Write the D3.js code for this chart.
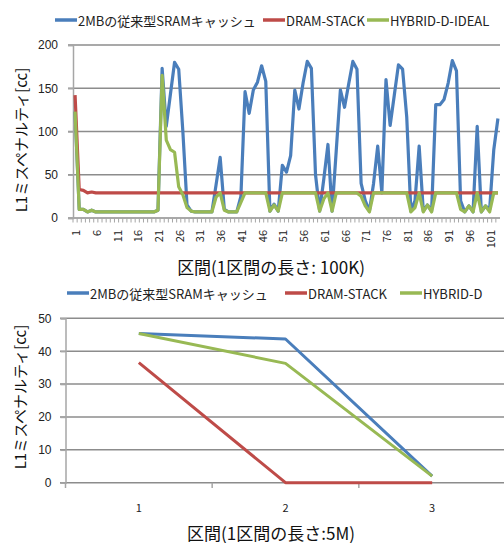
<!DOCTYPE html>
<html>
<head>
<meta charset="utf-8">
<style>
    body { margin: 0; background: #ffffff; }
    svg { display: block; font-family: "Noto Sans CJK JP", "Noto Sans", sans-serif; }
    .grid line { stroke: #8c8c8c; stroke-width: 1.5; }
    .axis path, .axis line { stroke: #a6a6a6; stroke-width: 1.5; }
    .axis text { fill: #222; font-size: 12px; }
    .legend text { fill: #222; font-size: 13px; }
    .title { fill: #111; font-size: 17px; }
</style>
</head>
<body>
<svg width="504" height="543"></svg>

<script src="https://cdn.jsdelivr.net/npm/d3@7/dist/d3.min.js"></script>
<script>
    // ---- top chart: interval length 100K ----
    let intervals100k = d3.range(1, 104)
    let tickLabels100k = [1, 6, 11, 16, 21, 26, 31, 36, 41, 46, 51, 56, 61, 66, 71, 76, 81, 86, 91, 96, 101]
    let yTicks100k = [0, 50, 100, 150, 200]

    let sram100k = [
        123, 10, 10, 7, 9, 7, 7, 7, 7, 7,
        7, 7, 7, 7, 7, 7, 7, 7, 7, 7,
        9, 173, 106, 143, 180, 172, 100, 15, 8, 7,
        7, 7, 7, 7, 38, 70, 10, 7, 7, 7,
        25, 146, 121, 148, 157, 176, 158, 8, 16, 8,
        61, 53, 72, 148, 126, 156, 181, 173, 50, 8,
        45, 85, 8, 78, 148, 128, 155, 181, 172, 40,
        20, 8, 40, 83, 29, 160, 107, 142, 177, 172,
        117, 8, 20, 83, 8, 15, 8, 131, 131, 137,
        156, 182, 170, 20, 7, 14, 7, 106, 7, 14,
        10, 79, 115
    ]
    let dram100k = [
        142, 33, 32, 29, 30, 29, 29, 29, 29, 29,
        29, 29, 29, 29, 29, 29, 29, 29, 29, 29,
        29, 29, 29, 29, 29, 29, 29, 29, 29, 29,
        29, 29, 29, 29, 29, 29, 29, 29, 29, 29,
        29, 29, 29, 29, 29, 29, 29, 29, 29, 29,
        29, 29, 29, 29, 29, 29, 29, 29, 29, 29,
        29, 29, 29, 29, 29, 29, 29, 29, 29, 29,
        29, 29, 29, 29, 29, 29, 29, 29, 29, 29,
        29, 29, 29, 29, 29, 29, 29, 29, 29, 29,
        29, 29, 29, 29, 29, 29, 29, 29, 29, 29,
        29, 29, 29
    ]
    let hybridIdeal100k = [
        123, 10, 10, 7, 9, 7, 7, 7, 7, 7,
        7, 7, 7, 7, 7, 7, 7, 7, 7, 7,
        9, 165, 90, 79, 76, 36, 27, 12, 8, 7,
        7, 7, 7, 7, 24, 29, 9, 7, 7, 7,
        18, 29, 29, 29, 29, 29, 29, 8, 15, 8,
        29, 29, 29, 29, 29, 29, 29, 29, 29, 8,
        22, 29, 8, 29, 29, 29, 29, 29, 29, 25,
        14, 7, 29, 29, 29, 29, 29, 29, 29, 29,
        29, 7, 12, 29, 7, 15, 7, 29, 29, 29,
        29, 29, 29, 10, 7, 14, 7, 29, 7, 14,
        7, 29, 29
    ]

    // ---- bottom chart: interval length 5M ----
    let intervals5m = [1, 2, 3]
    let yTicks5m = [0, 10, 20, 30, 40, 50]
    let sram5m = [45.4, 43.7, 2.0]
    let dram5m = [36.5, 0, 0]
    let hybrid5m = [45.4, 36.3, 2.0]

    let names = ["2MBの従来型SRAMキャッシュ", "DRAM-STACK"]
    let colors = ["#4a7ebb", "#be4b48", "#98b954"]

    let svg = d3.select("svg")

    function legend(y, items) {
        let g = svg.append("g").attr("class", "legend")
        items.forEach(it => {
            g.append("line")
                .attr("x1", it.x).attr("x2", it.x + 22)
                .attr("y1", y).attr("y2", y)
                .style("stroke", it.color)
                .style("stroke-width", 3.5)
            g.append("text")
                .attr("x", it.x + 23).attr("y", y)
                .attr("dominant-baseline", "central")
                .text(it.name)
        })
    }

    function yTitle(cx, cy) {
        svg.append("text")
            .attr("class", "title")
            .attr("transform", `translate(${cx},${cy}) rotate(-90)`)
            .attr("text-anchor", "middle")
            .attr("dominant-baseline", "central")
            .style("font-size", "15px")
            .text("L1ミスペナルティ[cc]")
    }

    // ===== top chart =====
    let x1 = d3.scalePoint().domain(intervals100k).range([73, 500]).padding(0.5)
    let y1 = d3.scaleLinear().domain([0, 200]).range([218, 45])
    let step1 = x1.step()

    legend(20, [
        { x: 55, color: colors[0], name: names[0] },
        { x: 263, color: colors[1], name: names[1] },
        { x: 367, color: colors[2], name: "HYBRID-D-IDEAL" }
    ])

    svg.append("g").attr("class", "grid")
        .selectAll("line")
        .data(yTicks100k)
        .join("line")
        .attr("x1", 68).attr("x2", 500)
        .attr("y1", d => y1(d)).attr("y2", d => y1(d))

    svg.append("g").attr("class", "axis")
        .attr("transform", "translate(73,0)")
        .call(d3.axisLeft(y1).tickValues(yTicks100k).tickSize(5).tickPadding(10))

    // minor ticks at category boundaries
    svg.append("g").attr("class", "axis")
        .selectAll("line")
        .data(intervals100k)
        .join("line")
        .attr("x1", d => x1(d) - step1 / 2).attr("x2", d => x1(d) - step1 / 2)
        .attr("y1", 218).attr("y2", 222.5)
        .style("stroke-width", 1)

    svg.append("g").attr("class", "axis")
        .selectAll("text")
        .data(tickLabels100k)
        .join("text")
        .attr("transform", d => `translate(${x1(d)},230) rotate(-90)`)
        .attr("text-anchor", "end")
        .attr("dominant-baseline", "central")
        .style("font-size", "11px")
        .text(d => d)

    let line1 = d3.line()
        .x((d, i) => x1(intervals100k[i]))
        .y(d => y1(d))

    ;[sram100k, dram100k, hybridIdeal100k].forEach((s, k) => {
        svg.append("path")
            .datum(s)
            .attr("d", line1)
            .style("fill", "none")
            .style("stroke", colors[k])
            .style("stroke-width", 3.2)
            .style("stroke-linejoin", "round")
    })

    yTitle(20, 140)

    svg.append("text")
        .attr("class", "title")
        .attr("x", 271).attr("y", 266)
        .attr("text-anchor", "middle")
        .attr("dominant-baseline", "central")
        .text("区間(1区間の長さ: 100K)")

    // ===== bottom chart =====
    let x2 = d3.scalePoint().domain(intervals5m).range([65.5, 505.5]).padding(0.5)
    let y2 = d3.scaleLinear().domain([0, 50]).range([482.7, 318.3])
    let step2 = x2.step()

    legend(293, [
        { x: 67, color: colors[0], name: names[0] },
        { x: 285, color: colors[1], name: names[1] },
        { x: 400, color: colors[2], name: "HYBRID-D" }
    ])

    svg.append("g").attr("class", "grid")
        .selectAll("line")
        .data(yTicks5m)
        .join("line")
        .attr("x1", 60).attr("x2", 504)
        .attr("y1", d => y2(d)).attr("y2", d => y2(d))

    svg.append("g").attr("class", "axis")
        .attr("transform", "translate(65.5,0)")
        .call(d3.axisLeft(y2).tickValues(yTicks5m).tickSize(5).tickPadding(9))

    svg.append("g").attr("class", "axis")
        .selectAll("line")
        .data(intervals5m)
        .join("line")
        .attr("x1", d => x2(d) - step2 / 2).attr("x2", d => x2(d) - step2 / 2)
        .attr("y1", 482.7).attr("y2", 488)

    svg.append("g").attr("class", "axis")
        .selectAll("text")
        .data(intervals5m)
        .join("text")
        .attr("x", d => x2(d)).attr("y", 507)
        .attr("text-anchor", "middle")
        .attr("dominant-baseline", "central")
        .style("font-size", "11px")
        .text(d => d)

    let line2 = d3.line()
        .x((d, i) => x2(intervals5m[i]))
        .y(d => y2(d))

    ;[sram5m, dram5m, hybrid5m].forEach((s, k) => {
        svg.append("path")
            .datum(s)
            .attr("d", line2)
            .style("fill", "none")
            .style("stroke", colors[k])
            .style("stroke-width", 3)
            .style("stroke-linejoin", "round")
    })

    yTitle(19, 397)

    svg.append("text")
        .attr("class", "title")
        .attr("x", 271).attr("y", 532)
        .attr("text-anchor", "middle")
        .attr("dominant-baseline", "central")
        .text("区間(1区間の長さ:5M)")
</script>
</body>
</html>
